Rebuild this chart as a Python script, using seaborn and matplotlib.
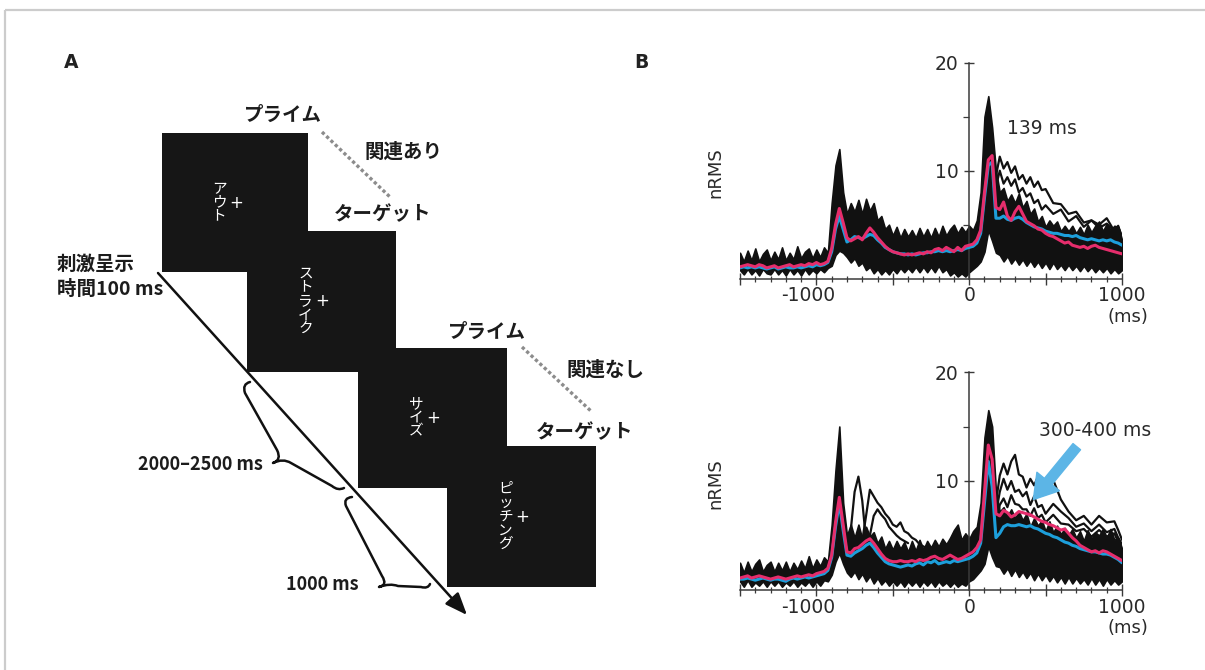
import numpy as np
import matplotlib
matplotlib.use("Agg")
import matplotlib.pyplot as plt
import matplotlib.transforms as mtransforms
import seaborn as sns
from matplotlib.patches import Rectangle, PathPatch
from matplotlib.path import Path
from matplotlib.ticker import FixedLocator, FixedFormatter, MultipleLocator

sns.set_theme(style="ticks")
plt.rcParams["font.family"] = ["DejaVu Sans"]
JP = ["Noto Sans CJK JP", "DejaVu Sans"]

# ---------------------------------------------------------------- data ----
# sample times (ms) of the averaged nRMS waveforms
time_ms = np.arange(-1500, 1001, 25)

# related prime -> target (upper panel)
rel_pink = [1.1, 1.2, 1.3, 1.2, 1.1, 1.3, 1.2, 1.0, 1.1, 1.2,
            1.0, 1.1, 1.2, 1.3, 1.1, 1.2, 1.3, 1.2, 1.4, 1.3,
            1.5, 1.3, 1.4, 1.6, 2.8, 5.0, 6.5, 5.2, 3.8, 3.5,
            3.7, 3.9, 3.6, 4.2, 4.7, 4.3, 3.8, 3.4, 3.0, 2.7,
            2.5, 2.4, 2.3, 2.2, 2.3, 2.2, 2.3, 2.4, 2.3, 2.5,
            2.4, 2.7, 2.8, 2.6, 2.9, 2.7, 2.5, 2.9, 2.6, 3.0,
            3.1, 3.2, 3.6, 4.5, 8.0, 11.0, 11.4, 6.6, 6.4, 7.1,
            5.8, 5.4, 6.2, 6.7, 6.0, 5.3, 5.1, 4.9, 4.6, 4.5,
            4.2, 4.0, 3.9, 3.7, 3.5, 3.3, 3.4, 3.1, 3.0, 2.9,
            3.0, 2.8, 3.0, 3.1, 2.9, 2.8, 2.7, 2.6, 2.5, 2.4,
            2.3]
rel_cyan = [1.0, 1.1, 1.0, 1.1, 1.0, 1.1, 1.0, 0.9, 1.0, 1.1,
            0.9, 1.0, 1.1, 1.0, 1.0, 1.1, 1.0, 1.1, 1.2, 1.1,
            1.3, 1.2, 1.3, 1.5, 2.5, 4.6, 5.8, 4.6, 3.4, 3.6,
            3.9, 3.8, 3.7, 3.9, 4.1, 4.0, 3.6, 3.3, 2.9, 2.7,
            2.5, 2.4, 2.3, 2.3, 2.2, 2.3, 2.2, 2.3, 2.4, 2.4,
            2.5, 2.5, 2.6, 2.5, 2.6, 2.5, 2.6, 2.7, 2.6, 2.8,
            2.9, 3.0, 3.3, 4.2, 7.5, 10.5, 10.8, 5.6, 5.6, 5.8,
            5.5, 5.4, 5.6, 5.7, 5.5, 5.2, 5.0, 4.8, 4.7, 4.6,
            4.4, 4.3, 4.2, 4.2, 4.1, 4.0, 4.0, 3.9, 4.0, 3.8,
            3.7, 3.6, 3.7, 3.6, 3.5, 3.6, 3.5, 3.6, 3.4, 3.3,
            3.1]
rel_upper = [2.4, 1.6, 2.6, 1.7, 2.8, 1.6, 2.3, 2.7, 1.7, 2.5,
             1.8, 2.9, 1.7, 2.4, 1.8, 3.0, 1.9, 2.5, 2.8, 1.9,
             2.7, 2.0, 2.9, 2.4, 7.0, 10.5, 12.0, 8.0, 6.0, 7.0,
             6.2, 7.3, 6.0, 7.4, 6.3, 7.0, 5.4, 5.8, 4.6, 5.0,
             4.0, 4.8, 3.8, 4.6, 3.9, 4.5, 3.8, 4.7, 3.9, 4.6,
             3.8, 4.7, 3.9, 4.9, 4.0, 4.6, 5.0, 4.2, 4.8, 4.3,
             4.9, 4.5, 5.4, 8.0, 15.0, 16.9, 14.0, 10.0, 8.0, 8.4,
             7.2, 7.8, 7.0, 7.9, 6.6, 7.2, 6.0, 6.5, 5.3, 5.8,
             4.8, 5.4, 4.9, 5.3, 4.4, 4.9, 4.4, 4.9, 4.2, 4.8,
             4.1, 5.0, 4.3, 4.9, 5.3, 4.4, 5.1, 4.5, 4.9, 4.8,
             3.6]
rel_lower = [0.8, 0.4, 0.9, 0.4, 0.8, 0.3, 0.9, 0.5, 0.4, 0.9,
             0.4, 0.8, 0.3, 0.9, 0.4, 0.8, 0.3, 0.9, 0.4, 0.8,
             0.5, 0.9, 0.6, 1.0, 1.2, 2.2, 2.6, 2.4, 2.0, 1.5,
             1.9, 1.2, 1.5, 0.8, 1.1, 0.5, 0.9, 0.4, 0.8, 0.4,
             0.9, 0.5, 1.0, 0.6, 1.0, 0.6, 1.1, 0.6, 1.1, 0.6,
             1.1, 0.6, 1.2, 0.6, 0.9, 0.3, 0.6, 0.2, 0.5, 0.2,
             0.6, 0.9, 1.2, 1.6, 2.5, 4.5, 3.5, 2.4, 2.2, 1.6,
             2.1, 1.4, 1.9, 1.3, 1.8, 1.2, 1.7, 1.1, 1.6, 1.0,
             1.5, 0.9, 1.5, 0.9, 1.3, 0.8, 1.3, 0.8, 1.2, 0.7,
             1.2, 0.7, 1.1, 0.6, 1.0, 0.6, 1.0, 0.5, 0.9, 0.5,
             0.8]

# unrelated prime -> target (lower panel)
unrel_pink = [1.1, 1.2, 1.3, 1.1, 1.2, 1.3, 1.2, 1.1, 1.0, 1.1,
              1.2, 1.1, 1.0, 1.1, 1.2, 1.3, 1.2, 1.3, 1.4, 1.3,
              1.5, 1.6, 1.7, 2.0, 3.2, 6.2, 8.5, 6.0, 3.5, 3.4,
              3.8, 3.9, 4.2, 4.5, 4.7, 4.3, 3.8, 3.3, 2.9, 2.7,
              2.6, 2.6, 2.7, 2.6, 2.6, 2.7, 2.6, 2.8, 2.7, 2.8,
              3.0, 3.1, 2.9, 2.8, 3.0, 3.2, 3.0, 2.8, 2.9, 3.1,
              3.3, 3.5, 3.9, 4.6, 9.0, 13.3, 12.0, 7.0, 6.8, 7.3,
              7.1, 6.7, 6.9, 7.2, 7.1, 7.0, 6.9, 6.7, 6.5, 6.3,
              6.2, 6.0, 5.9, 5.7, 5.5, 5.6, 5.2, 4.8, 4.5, 4.1,
              3.9, 3.7, 3.5, 3.6, 3.4, 3.6, 3.5, 3.3, 3.1, 2.9,
              2.7]
unrel_cyan = [1.0, 1.0, 1.1, 1.0, 0.9, 1.0, 1.1, 1.0, 0.9, 1.0,
              1.0, 0.9, 0.8, 1.0, 1.1, 1.0, 1.1, 1.2, 1.1, 1.2,
              1.3, 1.4, 1.5, 1.8, 3.0, 5.8, 8.0, 5.5, 3.2, 3.1,
              3.4, 3.6, 3.8, 4.1, 4.3, 3.9, 3.4, 3.0, 2.6, 2.4,
              2.3, 2.2, 2.1, 2.2, 2.3, 2.2, 2.4, 2.5, 2.3, 2.6,
              2.5, 2.7, 2.4, 2.5, 2.6, 2.5, 2.7, 2.6, 2.7, 2.8,
              2.9, 3.1, 3.4, 4.3, 8.0, 11.8, 9.5, 4.8, 5.2, 5.8,
              6.0, 5.9, 5.9, 6.0, 5.9, 5.8, 5.9, 5.7, 5.6, 5.4,
              5.2, 5.1, 4.9, 4.8, 4.6, 4.4, 4.3, 4.1, 4.0, 3.8,
              3.7, 3.6, 3.5, 3.5, 3.4, 3.3, 3.3, 3.2, 3.0, 2.8,
              2.5]
unrel_upper = [2.5, 1.6, 2.6, 1.7, 2.4, 2.8, 1.7, 2.3, 2.6, 1.7,
               2.5, 1.8, 2.6, 1.7, 2.5, 1.9, 2.7, 2.0, 3.1, 2.0,
               2.8, 2.2, 3.0, 2.6, 6.0, 11.0, 15.0, 8.0, 5.0, 6.0,
               4.8, 6.0, 4.7, 5.8, 4.9, 5.3, 4.3, 4.9, 3.8, 4.5,
               3.7, 4.5, 3.8, 4.4, 3.5, 4.5, 3.6, 4.6, 3.7, 4.5,
               3.9, 4.6, 4.0, 4.7, 4.2, 4.8, 5.5, 6.0, 4.6, 5.2,
               4.7, 5.4, 5.8, 8.0, 14.0, 16.5, 15.0, 9.0, 7.2, 7.6,
               6.8, 7.4, 6.6, 7.2, 6.4, 7.0, 5.8, 6.6, 5.9, 6.4,
               5.4, 6.3, 5.3, 5.9, 5.1, 5.7, 5.0, 5.6, 4.8, 5.4,
               4.5, 5.5, 4.7, 5.3, 5.0, 5.6, 4.8, 5.6, 4.6, 4.8,
               3.8]
unrel_lower = [0.8, 0.3, 0.9, 0.3, 0.7, 0.4, 0.8, 0.3, 0.8, 0.4,
               0.8, 0.3, 0.7, 0.4, 0.8, 0.3, 0.7, 0.4, 0.8, 0.3,
               0.8, 0.4, 0.9, 0.8, 1.4, 2.6, 3.4, 2.4, 1.6, 1.2,
               1.7, 1.0, 1.5, 0.8, 1.3, 0.6, 1.1, 0.5, 0.9, 0.4,
               0.8, 0.4, 0.8, 0.3, 0.8, 0.4, 0.8, 0.3, 0.8, 0.4,
               0.8, 0.3, 0.8, 0.4, 0.7, 0.3, 0.7, 0.3, 0.6, 0.4,
               0.8, 1.0, 1.4, 1.8, 2.4, 4.0, 3.0, 2.2, 2.1, 1.5,
               2.0, 1.3, 1.9, 1.2, 1.7, 1.1, 1.6, 0.9, 1.5, 0.9,
               1.4, 0.8, 1.3, 0.7, 1.2, 0.6, 1.2, 0.6, 1.1, 0.6,
               1.0, 0.5, 1.1, 0.5, 1.0, 0.4, 1.0, 0.5, 0.9, 0.5,
               0.8]

# individual subjects standing out above the bulk of traces
t_post = [175, 200, 225, 250, 275, 300, 325, 350, 375, 400, 425, 450, 475,
          500, 550, 600, 650, 700, 750, 800, 850, 900, 950, 975, 1000]
rel_subj_1 = [9.5, 11.3, 10.2, 10.8, 9.8, 10.4, 9.2, 9.6, 8.8, 9.4, 8.5, 9.0, 8.2,
              8.3, 7.0, 6.9, 6.0, 6.2, 5.2, 5.4, 5.0, 5.6, 4.4, 4.9, 3.8]
rel_subj_2 = [8.5, 10.0, 8.8, 9.4, 8.6, 9.2, 8.0, 8.4, 7.6, 7.9, 7.0, 7.3, 6.4,
              6.8, 6.0, 6.4, 5.3, 5.8, 4.8, 5.4, 4.7, 5.1, 4.4, 4.8, 3.9]
unrel_subj_d = [8.0, 10.5, 11.6, 10.6, 11.8, 12.4, 10.6, 10.4, 9.4, 10.2, 9.6, 10.4, 9.2,
                9.6, 10.1, 8.3, 7.2, 6.4, 6.8, 6.0, 6.8, 6.2, 6.3, 5.5, 4.6]
unrel_subj_e = [7.0, 9.0, 10.2, 9.2, 10.0, 9.0, 9.2, 8.6, 9.0, 7.8, 8.6, 7.6, 7.8,
                7.0, 7.9, 7.2, 6.6, 5.8, 6.1, 5.4, 6.0, 5.3, 5.6, 4.8, 4.2]
unrel_subj_f = [6.0, 7.8, 8.4, 7.6, 8.7, 7.9, 7.8, 7.4, 7.4, 6.8, 7.5, 6.6, 6.9,
                6.2, 6.9, 6.1, 6.0, 5.4, 5.6, 4.9, 5.5, 4.9, 5.2, 4.4, 3.9]
t_pre_a = [-825, -800, -775, -750, -725, -700, -675, -650, -625, -600]
unrel_pre_a = [3.0, 3.5, 5.5, 9.0, 10.4, 8.2, 4.5, 4.0, 4.3, 3.8]
t_pre_b = [-725, -700, -675, -650, -625, -600, -575, -550, -525, -500,
           -475, -450, -425, -400, -375, -350, -325, -300, -275]
unrel_pre_b = [4.2, 4.5, 6.8, 9.2, 8.6, 8.0, 7.6, 7.0, 6.6, 6.0,
               5.8, 6.2, 5.4, 5.2, 4.8, 4.6, 4.2, 4.0, 3.8]
t_pre_c = [-675, -650, -625, -600, -575, -550, -525, -500, -475, -450, -425, -400]
unrel_pre_c = [4.4, 5.0, 6.8, 7.4, 6.9, 6.5, 5.8, 5.4, 5.0, 4.7, 4.5, 4.3]

peak_latency_ms = 139
window_label = "300-400 ms"

x_major = [-1500, -1000, -500, 0, 500, 1000]
x_major_labels = ["", "-1000", "", "0", "", "1000"]
y_major = [10, 20]
y_minor = [5, 15]

# task diagram
stimulus_words = ["アウト", "ストライク", "サイズ", "ピッチング"]
prime_label, target_label = "プライム", "ターゲット"
relation_labels = ["関連あり", "関連なし"]
duration_label = "刺激呈示\n時間100 ms"
isi_label = "2000–2500 ms"
soa_label = "1000 ms"

# ------------------------------------------------------------- styling ----
TRACE = "#111111"
PINK = "#e62d6c"
CYAN = "#1d9fdb"
ARROW_BLUE = "#5cb5e6"
AX_COLOR = "#3a3a3a"
TXT = "#2a2a2a"

W, H = 1205, 670
fig = plt.figure(figsize=(W / 100, H / 100), dpi=100)
fig.patch.set_facecolor("white")

# full-figure canvas in pixel units for the task diagram
canvas = fig.add_axes([0, 0, 1, 1])
canvas.set_xlim(0, W)
canvas.set_ylim(H, 0)
canvas.axis("off")

# light frame
canvas.plot([5, W], [10, 10], color="#cccccc", lw=1.6, solid_capstyle="butt")
canvas.plot([5, 5], [10, H], color="#cccccc", lw=1.6, solid_capstyle="butt")

canvas.text(71, 62, "A", fontsize=13.5, fontweight="bold", color="#222222",
            ha="center", va="center")
canvas.text(641, 62, "B", fontsize=13.5, fontweight="bold", color="#222222",
            ha="center", va="center")

# timeline arrow
canvas.annotate("", xy=(467, 615), xytext=(158, 273),
                arrowprops=dict(arrowstyle="-|>,head_length=0.75,head_width=0.3",
                                lw=1.8, color="#111111", mutation_scale=18,
                                shrinkA=0, shrinkB=0), zorder=1)

# stimulus screens
screens = [(162, 133, 146, 139), (247, 231, 149, 141),
           (358, 348, 149, 140), (447, 446, 149, 141)]
for (x0, y0, w, h), word in zip(screens, stimulus_words):
    canvas.add_patch(Rectangle((x0, y0), w, h, facecolor="#161616",
                               edgecolor="none", zorder=2))
    cx, cy = x0 + w / 2, y0 + h / 2
    canvas.text(cx - 16, cy, "\n".join(word), color="white", fontsize=10.5,
                family=JP, ha="center", va="center", linespacing=0.98, zorder=3)
    canvas.text(cx + 1, cy, "+", color="white", fontsize=12,
                ha="center", va="center", zorder=3)

lab_kw = dict(family=JP, fontsize=14, fontweight="bold", color="#1c1c1c",
              ha="center", va="center")
canvas.text(283, 115, prime_label, **lab_kw)
canvas.text(403, 152, relation_labels[0], **lab_kw)
canvas.text(383, 215, target_label, **lab_kw)
canvas.text(487, 332, prime_label, **lab_kw)
canvas.text(605, 370, relation_labels[1], **lab_kw)
canvas.text(585, 433, target_label, **lab_kw)

dot_kw = dict(color="#8c8c8c", lw=2.4, linestyle=(0, (1.0, 0.8)))
canvas.plot([322, 390], [132, 197], **dot_kw)
canvas.plot([522, 592], [347, 412], **dot_kw)

canvas.text(57, 277, duration_label, family=JP, fontsize=14, fontweight="bold",
            color="#1c1c1c", ha="left", va="center", linespacing=1.45)
canvas.text(200, 465, isi_label, family=JP, fontsize=13, fontweight="bold",
            color="#1c1c1c", ha="center", va="center")
canvas.text(322, 585, soa_label, family=JP, fontsize=13, fontweight="bold",
            color="#1c1c1c", ha="center", va="center")

# curly braces along the timeline
M, L, Q = Path.MOVETO, Path.LINETO, Path.CURVE3
brace_1 = [(250, 382), (242, 384), (245, 393), (277, 450), (282, 460), (273, 463),
           (283, 458), (291, 463), (332, 486), (338, 491), (344, 488)]
brace_2 = [(352, 497), (343, 498), (346, 506), (382, 576), (388, 585), (379, 587),
           (390, 583), (398, 586), (421, 587), (428, 589), (430, 584)]
codes = [M, Q, Q, L, Q, Q, Q, Q, L, Q, Q]
for pts in (brace_1, brace_2):
    canvas.add_patch(PathPatch(Path(pts, codes), facecolor="none",
                               edgecolor="#111111", lw=1.8, zorder=2,
                               capstyle="round", joinstyle="round"))


# ------------------------------------------------------- nRMS panels ----
def draw_panel(rect, upper, lower, subjects, cyan, pink):
    ax = fig.add_axes(rect)
    ax.set_facecolor("none")
    ax.fill_between(time_ms, lower, upper, color=TRACE,
                    linewidth=1.2, edgecolor=TRACE, zorder=2)
    for t, y in subjects:
        sns.lineplot(x=t, y=y, ax=ax, color=TRACE, lw=1.6, zorder=2)
    sns.lineplot(x=time_ms, y=cyan, ax=ax, color=CYAN, lw=2.2, zorder=3)
    sns.lineplot(x=time_ms, y=pink, ax=ax, color=PINK, lw=2.2, zorder=4)
    ax.set_xlabel("")
    ax.set_ylabel("")
    ax.set_xlim(-1500, 1000)
    ax.set_ylim(0, 20)

    for side in ("top", "right"):
        ax.spines[side].set_visible(False)
    ax.spines["left"].set_position(("data", 0))
    for side in ("left", "bottom"):
        ax.spines[side].set_color(AX_COLOR)
        ax.spines[side].set_linewidth(1.1)

    ax.xaxis.set_major_locator(FixedLocator(x_major))
    ax.xaxis.set_major_formatter(FixedFormatter(x_major_labels))
    ax.xaxis.set_minor_locator(MultipleLocator(100))
    ax.yaxis.set_major_locator(FixedLocator(y_major))
    ax.yaxis.set_minor_locator(FixedLocator(y_minor))
    ax.tick_params(axis="x", which="major", direction="inout", length=8, width=1.0,
                   color=AX_COLOR, pad=1.5, labelsize=13.5, labelcolor=TXT)
    ax.tick_params(axis="x", which="minor", direction="inout", length=4.5,
                   width=0.9, color=AX_COLOR)
    ax.tick_params(axis="y", which="major", direction="inout", length=7, width=1.0,
                   color=AX_COLOR, pad=4, labelsize=13.5, labelcolor=TXT)
    ax.tick_params(axis="y", which="minor", direction="out", length=4.5,
                   width=0.9, color=AX_COLOR)

    ax.text(-0.065, 0.49, "nRMS", rotation=90, transform=ax.transAxes,
            ha="center", va="center", fontsize=13, color=TXT)
    ax.annotate("(ms)", xy=(1000, 0), xytext=(26, -38), textcoords="offset pixels",
                ha="right", va="center", fontsize=13, color=TXT,
                annotation_clip=False)
    return ax


ax_rel = draw_panel([740 / W, (H - 278.7) / H, 382 / W, 216 / H],
                    rel_upper, rel_lower,
                    [(t_post, rel_subj_1), (t_post, rel_subj_2)],
                    rel_cyan, rel_pink)
ax_rel.text(477, 13.95, f"{peak_latency_ms} ms", ha="center", va="center",
            fontsize=13.5, color=TXT)

ax_unrel = draw_panel([740 / W, (H - 590) / H, 382 / W, 218 / H],
                      unrel_upper, unrel_lower,
                      [(t_pre_a, unrel_pre_a), (t_pre_b, unrel_pre_b),
                       (t_pre_c, unrel_pre_c), (t_post, unrel_subj_d),
                       (t_post, unrel_subj_e), (t_post, unrel_subj_f)],
                      unrel_cyan, unrel_pink)
ax_unrel.text(824, 14.6, window_label, ha="center", va="center",
              fontsize=13.5, color=TXT)
ax_unrel.annotate("", xy=(420, 8.3), xytext=(704, 13.15),
                  arrowprops=dict(arrowstyle="simple,head_length=1.2,head_width=1.5,tail_width=0.5",
                                  color=ARROW_BLUE, mutation_scale=14,
                                  shrinkA=0, shrinkB=0), zorder=6)

# hang the minus sign of "-1000" to the left of its tick
fig.canvas.draw()
for ax in (ax_rel, ax_unrel):
    for lab in ax.get_xticklabels():
        if lab.get_text().startswith("-"):
            lab.set_transform(lab.get_transform() +
                              mtransforms.ScaledTranslation(-8 / 100, 0, fig.dpi_scale_trans))

fig.savefig("out.png", dpi=100, facecolor="white")
